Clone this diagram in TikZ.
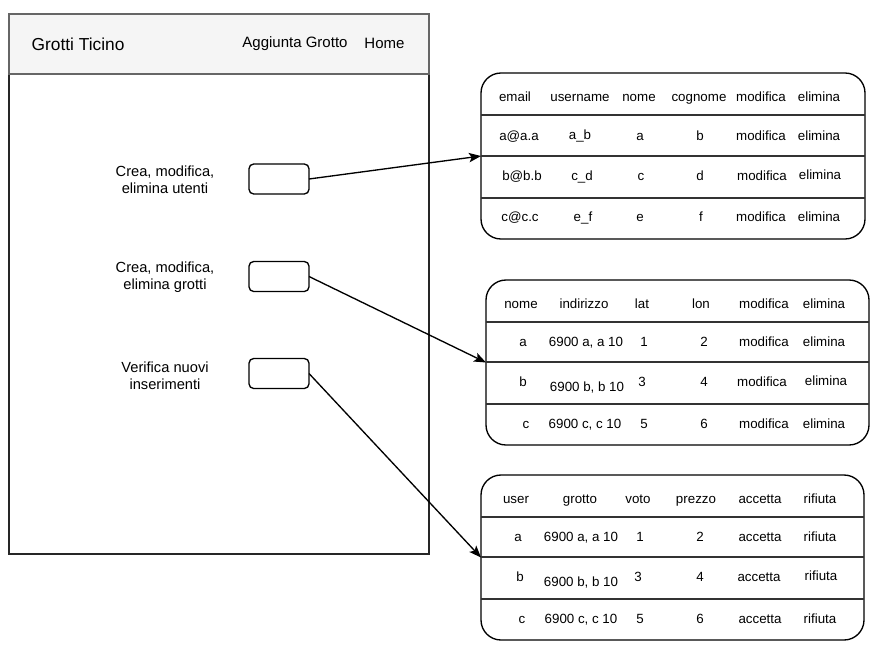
\documentclass[tikz,border=0pt]{standalone}
\usepackage{fontspec}
\setmainfont{Liberation Sans}
\usetikzlibrary{arrows.meta}
\definecolor{headfill}{HTML}{F5F5F5}
\definecolor{headline}{HTML}{666666}
\begin{document}
\begin{tikzpicture}[x=0.75pt,y=-0.75pt,
  line width=1pt,
  frame/.style={draw=black!85, inner sep=0pt, outer sep=0pt},
  header/.style={draw=headline, fill=headfill, inner sep=0pt, outer sep=0pt},
  tbl/.style={draw=black, rounded corners=15pt, inner sep=0pt, outer sep=0pt},
  btn/.style={draw=black, rounded corners=3.5pt, inner sep=0pt, outer sep=0pt,
    minimum width=45pt, minimum height=22.5pt},
  rowline/.style={draw=black!80},
  cell/.style={inner sep=0pt, font=\fontsize{10}{12}\selectfont,
    text height=7pt, text depth=2pt, yshift=-1pt},
  lbl/.style={inner sep=0pt, align=center, font=\fontsize{11}{12.75}\selectfont, yshift=-1pt},
  arr/.style={draw=black, -{Stealth[length=9pt,width=7pt,inset=2pt]}}]
\useasboundingbox (0,0) rectangle (889,657);

% page frame with its header bar
\node[frame, minimum width=315pt, minimum height=405pt] (page) at (219,284) {};
\node[header, minimum width=315pt, minimum height=45pt] (bar) at (219,44) {};
\node[inner sep=0pt, font=\fontsize{13}{15}\selectfont] (title) at (78,44.5) {Grotti Ticino};
\node[inner sep=0pt, font=\fontsize{11.25}{14}\selectfont] (nav1) at (295,43.5) {Aggiunta Grotto};
\node[inner sep=0pt, font=\fontsize{11.25}{14}\selectfont] (nav2) at (384.5,43.5) {Home};

% section labels and buttons
\node[lbl] (l1) at (165,178) {Crea, modifica,\\elimina utenti};
\node[lbl] (l2) at (165,276) {Crea, modifica,\\elimina grotti};
\node[lbl] (l3) at (165,374) {Verifica nuovi\\inserimenti};
\node[btn] (b1) at (279,179) {};
\node[btn] (b2) at (279,276.5) {};
\node[btn] (b3) at (279,373.5) {};

% table frames
\node[tbl, minimum width=288pt, minimum height=124.5pt] (t1) at (673,156) {};
\node[tbl, minimum width=287.25pt, minimum height=123.75pt] (t2) at (677.5,362.5) {};
\node[tbl, minimum width=287.25pt, minimum height=123.75pt] (t3) at (672.5,557.5) {};

% row separators
\foreach \y in {115,156,198} \draw[rowline] (481,\y) -- (865,\y);
\foreach \y in {322,362,404} \draw[rowline] (486,\y) -- (869,\y);
\foreach \y in {517,557,599} \draw[rowline] (481,\y) -- (864,\y);

% users table
\foreach \x/\t [count=\i] in {515/email,580/username,639/nome,699/cognome,761/modifica,819/elimina}
  \node[cell, name=ua\i] at (\x,97) {\t};
\foreach \x/\y/\t [count=\i] in {519/136/a@a.a,580/135/a\_b,640/136/a,700/136/b,761/136/modifica,819/136/elimina}
  \node[cell, name=ub\i] at (\x,\y) {\t};
\foreach \x/\y/\t [count=\i] in {522/176/b@b.b,582/176/c\_d,641/176/c,700/176/d,762/176/modifica,820/175/elimina}
  \node[cell, name=uc\i] at (\x,\y) {\t};
\foreach \x/\y/\t [count=\i] in {520/217/c@c.c,583/217/e\_f,640/217/e,701/217/f,761/217/modifica,819/217/elimina}
  \node[cell, name=ud\i] at (\x,\y) {\t};

% grotti table
\foreach \x/\t [count=\i] in {521/nome,584/indirizzo,642/lat,701/lon,764/modifica,824/elimina}
  \node[cell, name=ga\i] at (\x,304) {\t};
\foreach \x/\y/\t [count=\i] in {523/342/a,586/342/{6900 a, a 10},644/342/1,704/342/2,764/342/modifica,824/342/elimina}
  \node[cell, name=gb\i] at (\x,\y) {\t};
\foreach \x/\y/\t [count=\i] in {523/382/b,587/387/{6900 b, b 10},642/382/3,704/382/4,762/382/modifica,826/381/elimina}
  \node[cell, name=gc\i] at (\x,\y) {\t};
\foreach \x/\y/\t [count=\i] in {526/424/c,585/424/{6900 c, c 10},644/424/5,704/424/6,764/424/modifica,824/424/elimina}
  \node[cell, name=gd\i] at (\x,\y) {\t};

% pending entries table
\foreach \x/\t [count=\i] in {516/user,580/grotto,638/voto,696/prezzo,760/accetta,820/rifiuta}
  \node[cell, name=va\i] at (\x,499) {\t};
\foreach \x/\y/\t [count=\i] in {518/537/a,581/537/{6900 a, a 10},640/537/1,700/537/2,760/537/accetta,820/537/rifiuta}
  \node[cell, name=vb\i] at (\x,\y) {\t};
\foreach \x/\y/\t [count=\i] in {520/577/b,581/582/{6900 b, b 10},638/577/3,700/577/4,759/577/accetta,821/576/rifiuta}
  \node[cell, name=vc\i] at (\x,\y) {\t};
\foreach \x/\y/\t [count=\i] in {522/619/c,581/619/{6900 c, c 10},640/619/5,700/619/6,760/619/accetta,820/619/rifiuta}
  \node[cell, name=vd\i] at (\x,\y) {\t};

% connectors
\draw[arr] (b1.east) -- (t1.west);
\draw[arr] (b2.east) -- (t2.west);
\draw[arr] (b3.east) -- (t3.west);
\end{tikzpicture}
\end{document}
